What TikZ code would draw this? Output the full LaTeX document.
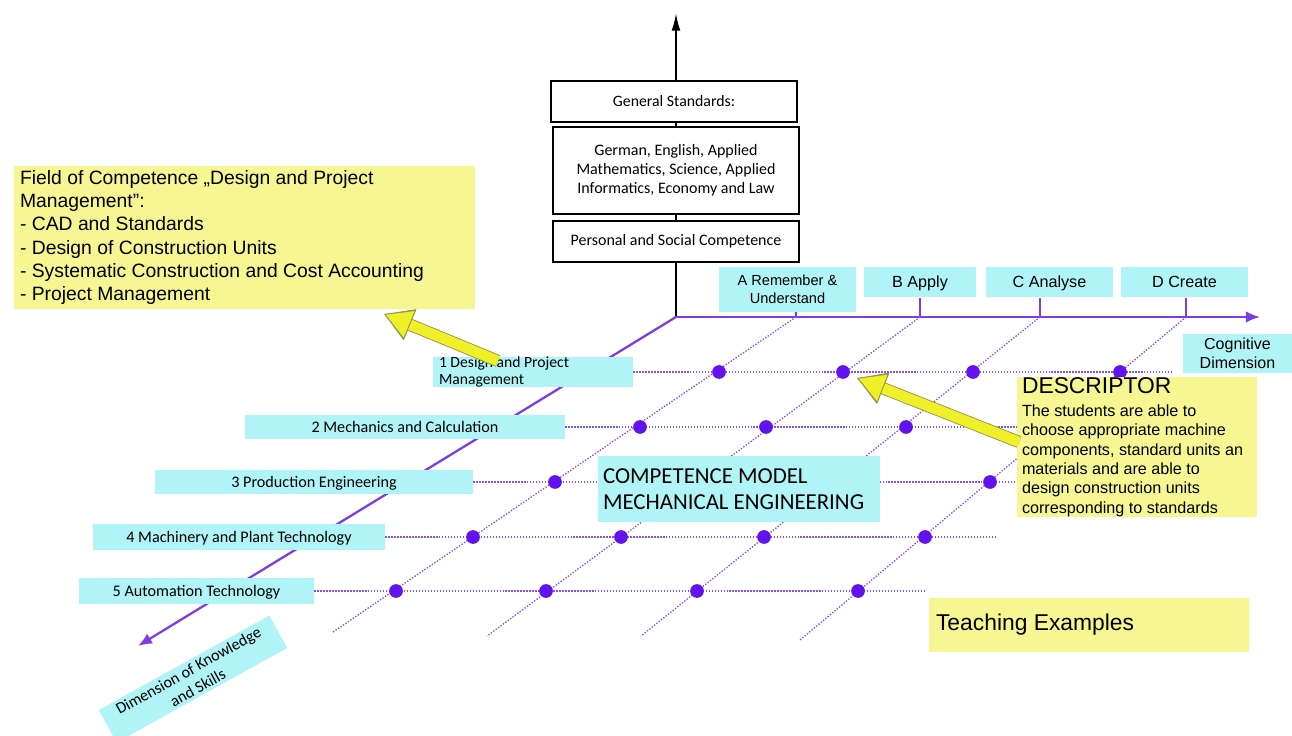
\documentclass[tikz,border=0pt]{standalone}
\usepackage{fontspec}
\setmainfont{Liberation Sans}
\newfontfamily\calibri{Carlito}
\usetikzlibrary{arrows.meta}
\definecolor{skycyan}{RGB}{176,244,248}
\definecolor{noteyellow}{RGB}{246,246,146}
\definecolor{arrowyellow}{RGB}{240,240,40}
\definecolor{arrowedge}{RGB}{150,150,70}
\definecolor{axispurple}{RGB}{125,60,228}
\definecolor{gridpurple}{RGB}{135,80,232}
\definecolor{dotpurple}{RGB}{98,18,236}
\tikzset{
	stdbox/.style={draw=black, line width=0.8pt, fill=white, align=center, inner sep=0pt, font=\calibri\fontsize{9.1}{10.8}\selectfont},
	rowbox/.style={fill=skycyan, inner sep=0pt, text height=1.6ex, text depth=0.45ex, font=\calibri\fontsize{9.2}{10}\selectfont},
	levelbox/.style={fill=skycyan, inner sep=0pt, align=center, font=\fontsize{9.2}{10.3}\selectfont},
	notebox/.style={fill=noteyellow, inner ysep=0pt, align=flush left},
	axisline/.style={axispurple, line width=1.3pt, -{Latex[length=8pt,width=6.5pt]}},
	gridline/.style={gridpurple, line width=0.75pt, dash pattern=on 0.8pt off 0.9pt},
	yellowarrow/.style={arrowyellow, line width=6pt, -{Triangle[length=16pt,width=18pt,fill=arrowyellow,color=arrowedge,line width=0.5pt]},
		preaction={draw=arrowedge, line width=7pt, -{Triangle[length=16pt,width=18pt,fill=arrowedge,color=arrowedge]}}},
}

\begin{document}
\begin{tikzpicture}[x=0.02cm, y=-0.02cm]
			%%%%% START %%%%%
			\useasboundingbox (0,0) rectangle (1292,736);
			
			\coordinate (origin) at (676,317);
			\coordinate (uptip) at (676,13);
			\coordinate (cogtip) at (1260,317);
			\coordinate (dimtip) at (138,646);
			
			% general standards column
			\draw[line width=1.1pt, -{Latex[length=10pt,width=5pt]}] (origin) -- (uptip);
			\node[stdbox, minimum width=4.92cm, minimum height=0.82cm, font=\calibri\fontsize{9}{10.8}\selectfont] (genstd) at (674,101.5) {General Standards:};
			\node[stdbox, minimum width=4.92cm, minimum height=1.74cm] (subjects) at (676,170.5) {German, English, Applied\\Mathematics, Science, Applied\\Informatics, Economy and Law};
			\node[stdbox, minimum width=4.92cm, minimum height=0.82cm] (personal) at (676,241.5) {Personal and Social Competence};
			
			% the two purple axes
			\draw[axisline] (origin) -- (cogtip);
			\draw[axisline] (origin) -- (dimtip);
			
			\coordinate (tickA) at (796,317);
			\coordinate (tickB) at (920,317);
			\coordinate (tickC) at (1040,317);
			\coordinate (tickD) at (1186,317);
			\foreach \t in {A,B,C,D}
				\draw[axispurple, line width=1.1pt] (tick\t) -- ++(0,-19);
			
			\coordinate (footA) at (333,632);
			\coordinate (footB) at (487,636);
			\coordinate (footC) at (641,636);
			\coordinate (footD) at (800,640);
			\foreach \t in {A,B,C,D}
				\draw[gridline] (tick\t) -- (foot\t);
			
			% rows of the knowledge dimension
			\node[rowbox, minimum width=4.0cm, minimum height=0.54cm, inner xsep=0.12cm, text width=3.76cm, text height=, text depth=, align=flush left,
				font=\calibri\fontsize{8.9}{9.6}\selectfont] (row1) at (533,372) {1 Design and Project\\Management};
			\node[rowbox, minimum width=6.4cm, minimum height=0.5cm] (row2) at (405,427) {2 Mechanics and Calculation};
			\node[rowbox, minimum width=6.36cm, minimum height=0.5cm] (row3) at (314,482) {3 Production Engineering};
			\node[rowbox, minimum width=5.84cm, minimum height=0.52cm] (row4) at (239,537) {4 Machinery and Plant Technology};
			\node[rowbox, minimum width=4.7cm, minimum height=0.52cm] (row5) at (196.5,591) {5 Automation Technology};
			
			\coordinate (end1) at (1172,372);
			\coordinate (end2) at (1020,427);
			\coordinate (end3) at (1020,482);
			\coordinate (end4) at (995,537);
			\coordinate (end5) at (925,591);
			\foreach \r in {1,...,5}
				\draw[gridline] (row\r.east) -- (end\r);
			
			\foreach \x/\y in {719/372, 843/372, 973/372, 1120/372, 640/427, 766/427, 906/427, 555/482, 990/482,
				473/537, 621/537, 764/537, 925/537, 396/591, 546/591, 697/591, 858/591}
				\fill[dotpurple] (\x,\y) circle[radius=3.9pt];
			
			% boxes on top
			\node[fill=skycyan, inner ysep=0pt, inner xsep=0.1cm, minimum width=5.64cm, minimum height=1.34cm, text width=5.44cm, align=flush left,
				font=\calibri\fontsize{13}{14.7}\selectfont] (model) at (739,489) {COMPETENCE MODEL\\MECHANICAL ENGINEERING};
			\node[notebox, inner xsep=0.1cm, minimum width=4.8cm, minimum height=2.8cm, text width=4.6cm, font=\fontsize{9.2}{11}\selectfont] (descriptor) at (1137,447)
				{{\fontsize{13}{13}\selectfont DESCRIPTOR}\\[2pt]The students are able to\\choose appropriate machine\\components, standard units an\\materials and are able to\\design construction units\\corresponding to standards};
			\node[notebox, inner xsep=0.14cm, minimum width=6.4cm, minimum height=1.08cm, text width=6.12cm, font=\fontsize{13}{15}\selectfont] (examples) at (1089,625) {Teaching Examples};
			\node[notebox, inner xsep=0.12cm, minimum width=9.22cm, minimum height=2.86cm, text width=8.98cm, font=\fontsize{11}{13.3}\selectfont] (field) at (244.5,237.5)
				{Field of Competence „Design and Project\\Management”:\\- CAD and Standards\\- Design of Construction Units\\- Systematic Construction and Cost Accounting\\- Project Management};
			
			% cognitive levels
			\node[levelbox, minimum width=2.74cm, minimum height=0.9cm, font=\fontsize{8.3}{10.3}\selectfont] (levelA) at (787.5,289.5) {A Remember \&\\Understand};
			\node[levelbox, minimum width=2.26cm, minimum height=0.6cm, text height=1.6ex, text depth=0.45ex] (levelB) at (920,282) {B Apply};
			\node[levelbox, minimum width=2.54cm, minimum height=0.6cm, text height=1.6ex, text depth=0.45ex] (levelC) at (1049.5,282) {C Analyse};
			\node[levelbox, minimum width=2.54cm, minimum height=0.6cm, text height=1.6ex, text depth=0.45ex] (levelD) at (1184.5,282) {D Create};
			\node[levelbox, minimum width=2.18cm, minimum height=0.78cm, font=\fontsize{9.1}{10.6}\selectfont] (cognitive) at (1237.5,353.5) {Cognitive\\Dimension};
			\node[levelbox, rotate=29, minimum width=3.9cm, minimum height=0.74cm, font=\calibri\fontsize{9.2}{11}\selectfont] (knowledge) at (193,679) {Dimension of Knowledge\\and Skills};
			
			% yellow pointers
			\coordinate (fieldtip) at (384,314);
			\coordinate (fieldtail) at (498,361);
			\coordinate (desctip) at (857,378);
			\coordinate (desctail) at (1019,442);
			\draw[yellowarrow] (fieldtail) -- (fieldtip);
			\draw[yellowarrow] (desctail) -- (desctip);
			
			%%%%% END %%%%%
\end{tikzpicture}
\end{document}
